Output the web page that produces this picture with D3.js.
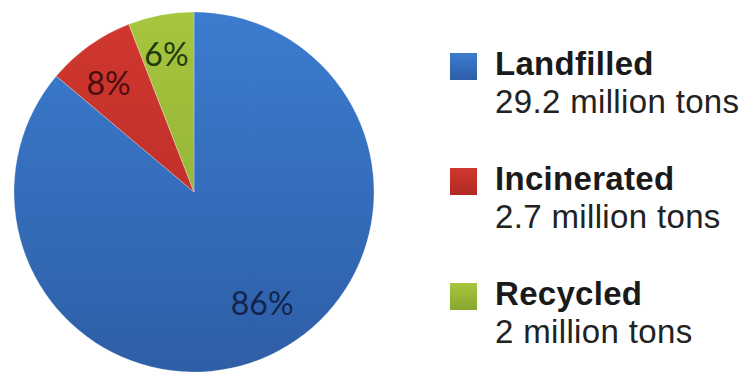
<!DOCTYPE html>
<html>
<head>
<meta charset="utf-8">
<script src="https://cdn.jsdelivr.net/npm/d3@7/dist/d3.min.js"></script>
<style>
  html, body { margin: 0; padding: 0; background: #fff; }
  svg { display: block; }
</style>
</head>
<body>
<svg id="chart" width="744" height="374"></svg>
<script>
// Waste disposal, million tons
const categories = ["Landfilled", "Incinerated", "Recycled"];
const tons = [29.2, 2.7, 2];
const pctLabels = ["86%", "8%", "6%"];
const amountLabels = ["29.2 million tons", "2.7 million tons", "2 million tons"];

const fillTop = ["#3b7ccf", "#d0372f", "#a6c63e"];
const fillBottom = ["#2e5ea6", "#b22a25", "#87a731"];
const labelInk = ["#13244d", "#4a0e0e", "#1f3a0f"];

const cx = 194, cy = 192, R = 180;
// small shifts that move each percentage off the plain centroid
const labelShift = [[12, -9], [-8, 0], [-3, -7]];

const svg = d3.select("#chart");
const defs = svg.append("defs");

categories.forEach((c, i) => {
  const g = defs.append("linearGradient")
    .attr("id", "grad" + i)
    .attr("gradientUnits", "userSpaceOnUse")
    .attr("x1", 0).attr("y1", -R)
    .attr("x2", 0).attr("y2", R);
  g.append("stop").attr("offset", "0%").attr("stop-color", fillTop[i]);
  g.append("stop").attr("offset", "100%").attr("stop-color", fillBottom[i]);

  const s = defs.append("linearGradient")
    .attr("id", "sq" + i)
    .attr("x1", 0).attr("y1", 0).attr("x2", 0).attr("y2", 1);
  s.append("stop").attr("offset", "0%").attr("stop-color", fillTop[i]);
  s.append("stop").attr("offset", "100%").attr("stop-color", fillBottom[i]);
});

const pie = d3.pie().sort(null).value(d => d)(tons);
const arc = d3.arc().innerRadius(0).outerRadius(R);
const labelArc = d3.arc().innerRadius(R * 0.74).outerRadius(R * 0.74);

const gPie = svg.append("g").attr("transform", `translate(${cx},${cy})`);

gPie.selectAll("path.slice")
  .data(pie)
  .join("path")
  .attr("class", "slice")
  .attr("d", arc)
  .attr("fill", (d, i) => `url(#grad${i})`)
  .attr("stroke", "rgba(255,255,255,0.25)")
  .attr("stroke-width", 1);

gPie.selectAll("text.pct")
  .data(pie)
  .join("text")
  .attr("class", "pct")
  .attr("transform", (d, i) => {
    const [x, y] = labelArc.centroid(d);
    return `translate(${x + labelShift[i][0]},${y + labelShift[i][1]})`;
  })
  .attr("text-anchor", "middle")
  .attr("dy", "0.36em")
  .attr("font-family", "Lato, 'Open Sans', sans-serif")
  .attr("font-size", 32)
  .attr("fill", (d, i) => labelInk[i])
  .text((d, i) => pctLabels[i]);

// Legend
const legendY = d3.scalePoint().domain(categories).range([75, 305]);
const items = svg.append("g").selectAll("g.item")
  .data(categories)
  .join("g")
  .attr("class", "item");

items.append("rect")
  .attr("x", 450)
  .attr("y", d => legendY(d) - 22)
  .attr("width", 27)
  .attr("height", 27)
  .attr("fill", (d, i) => `url(#sq${i})`);

items.append("text")
  .attr("x", 495)
  .attr("y", d => legendY(d))
  .attr("font-family", "'Liberation Sans', Arial, sans-serif")
  .attr("font-weight", "bold")
  .attr("font-size", 33)
  .attr("letter-spacing", 0.3)
  .attr("fill", "#1a1a1a")
  .text(d => d);

items.append("text")
  .attr("x", 495)
  .attr("y", d => legendY(d) + 38)
  .attr("font-family", "'Liberation Sans', Arial, sans-serif")
  .attr("font-size", 33)
  .attr("letter-spacing", 0.35)
  .attr("fill", "#222")
  .text((d, i) => amountLabels[i]);
</script>
</body>
</html>
